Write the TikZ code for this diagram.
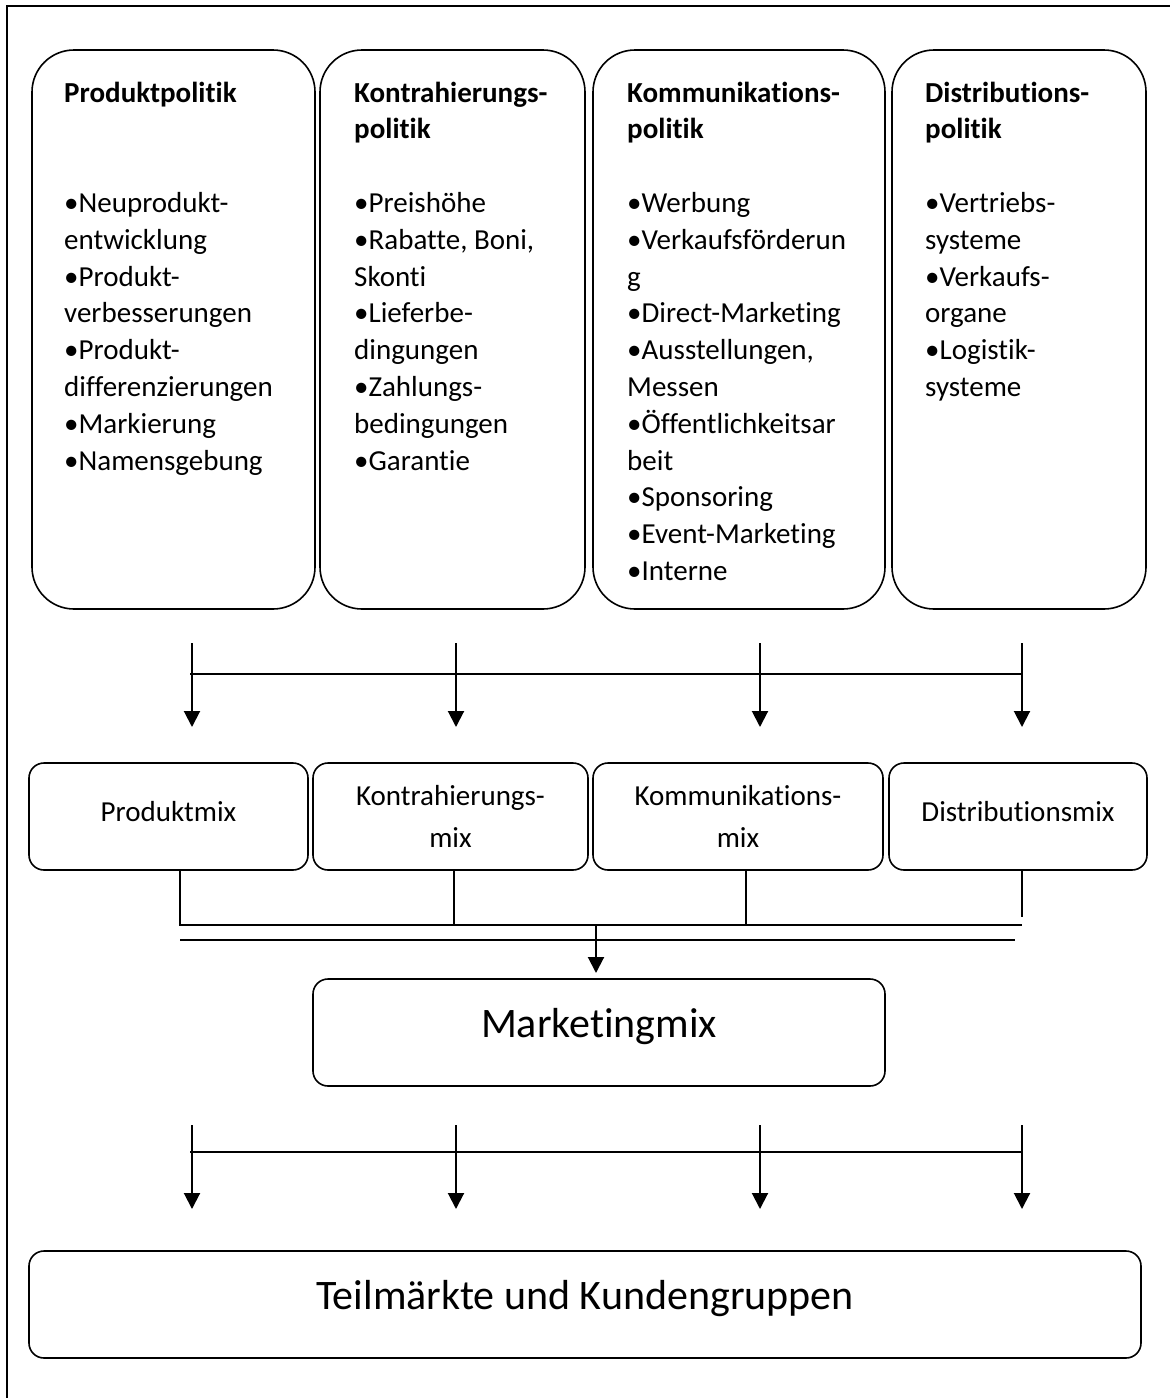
\documentclass[tikz,border=0pt]{standalone}
\usepackage{fontspec}
\setmainfont{Carlito}[RawFeature={-liga;-clig;-calt;-dlig}]
\usetikzlibrary{arrows.meta}
\newcommand\tI{t\kern0pt i}
\begin{document}
\begin{tikzpicture}[x=1pt,y=-1pt,
  bigbox/.style={draw, line width=1.6pt, rounded corners=42pt, inner sep=0pt},
  mixbox/.style={draw, line width=1.6pt, rounded corners=15pt, inner sep=0pt, align=center, font=\fontsize{29}{42}\selectfont},
  onemix/.style={mixbox, text height=21pt, text depth=11pt},
  mmbox/.style={draw, line width=1.6pt, rounded corners=15pt, inner sep=0pt, font=\fontsize{42}{50}\selectfont, text height=30pt, text depth=20pt},
  listtext/.style={anchor=north west, inner sep=0pt, align=left, font=\fontsize{29}{36.8}\selectfont},
  conn/.style={line width=2pt},
  arr/.style={line width=2pt, -{Triangle[length=16pt 0 0,width=16pt 0 0]}},
  frame/.style={line width=2pt}
]
\useasboundingbox (0,0) rectangle (1170,1398);
% outer frame (left and top edges visible)
\coordinate (fbl) at (7,1398);
\coordinate (ftl) at (7,6);
\coordinate (ftr) at (1170,6);
\draw[frame] (fbl) -- (ftl) -- (ftr);

% top policy boxes
\node[bigbox, minimum width=283pt, minimum height=559pt] (p1) at (173.5,329.5) {};
\node[bigbox, minimum width=265pt, minimum height=559pt] (p2) at (452.5,329.5) {};
\node[bigbox, minimum width=292pt, minimum height=559pt] (p3) at (739,329.5) {};
\node[bigbox, minimum width=254pt, minimum height=559pt] (p4) at (1019,329.5) {};

\node[listtext] (t1) at (64,76.2) {\strut\textbf{Produktpoli\tI k}\\\strut\\\strut\\•Neuprodukt-\\entwicklung\\•Produkt-\\verbesserungen\\•Produkt-\\differenzierungen\\•Markierung\\•Namensgebung};
\node[listtext] (t2) at (354,76.2) {\strut\textbf{Kontrahierungs-}\\\textbf{poli\tI k}\\\strut\\•Preishöhe\\•Rabatte, Boni,\\Skon\tI\\•Lieferbe-\\dingungen\\•Zahlungs-\\bedingungen\\•Garan\tI e};
\node[listtext] (t3) at (627,76.2) {\strut\textbf{Kommunika\tI ons-}\\\textbf{poli\tI k}\\\strut\\•Werbung\\•Verkaufsförderun\\g\\•Direct-Marke\tI ng\\•Ausstellungen,\\Messen\\•Öffentlichkeitsar\\beit\\•Sponsoring\\•Event-Marke\tI ng\\•Interne};
\node[listtext] (t4) at (925,76.2) {\strut\textbf{Distribu\tI ons-}\\\textbf{poli\tI k}\\\strut\\•Vertriebs-\\systeme\\•Verkaufs-\\organe\\•Logis\tI k-\\systeme};

% first arrow row
\coordinate (h1l) at (190,674);
\coordinate (h1r) at (1022,674);
\draw[conn] (h1l) -- (h1r);
\foreach \i/\x in {1/192,2/456,3/760,4/1022}{
  \coordinate (u\i) at (\x,643);
  \coordinate (d\i) at (\x,727);
  \draw[arr] (u\i) -- (d\i);
}

% mix boxes
\node[onemix, minimum width=279pt, minimum height=107pt] (mA) at (168.5,816.5) {Produktmix};
\node[mixbox, minimum width=275pt, minimum height=107pt] (mB) at (450.5,816.5) {Kontrahierungs-\\mix};
\node[mixbox, minimum width=290pt, minimum height=107pt] (mC) at (738,816.5) {Kommunika\tI ons-\\mix};
\node[onemix, minimum width=258pt, minimum height=107pt] (mD) at (1018,816.5) {Distribu\tI onsmix};

% joining lines
\coordinate (jA) at (180,925);
\coordinate (jB) at (454,925);
\coordinate (jC) at (746,925);
\coordinate (jD) at (1022,917);
\coordinate (jR) at (1022,925);
\coordinate (jM) at (596,925);
\coordinate (jMe) at (596,973);
\coordinate (l2l) at (180,940);
\coordinate (l2r) at (1015,940);
\draw[conn] (mA.south -| jA) -- (jA) -- (jR);
\draw[conn] (mB.south -| jB) -- (jB);
\draw[conn] (mC.south -| jC) -- (jC);
\draw[conn] (mD.south -| jD) -- (jD);
\draw[line width=1.6pt] (l2l) -- (l2r);
\draw[arr] (jM) -- (jMe);

% Marketingmix
\node[mmbox, minimum width=572pt, minimum height=107pt] (mm) at (599,1032.5) {Marke\tI ngmix};

% second arrow row
\coordinate (h2l) at (190,1152);
\coordinate (h2r) at (1022,1152);
\draw[conn] (h2l) -- (h2r);
\foreach \i/\x in {1/192,2/456,3/760,4/1022}{
  \coordinate (v\i) at (\x,1125);
  \coordinate (w\i) at (\x,1209);
  \draw[arr] (v\i) -- (w\i);
}

% bottom box
\node[mmbox, minimum width=1112pt, minimum height=107pt] (tk) at (585,1304.5) {Teilmärkte und Kundengruppen};
\end{tikzpicture}
\end{document}
